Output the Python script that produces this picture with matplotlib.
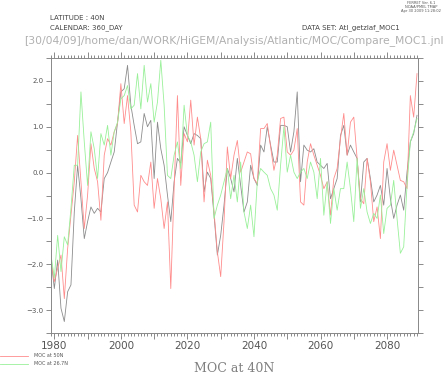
import matplotlib
matplotlib.use("Agg")
import matplotlib.pyplot as plt
from matplotlib.ticker import MultipleLocator, FuncFormatter

years = list(range(1979, 2090))

moc_40n = [
    -1.87, -2.53, -1.91, -2.96, -3.25, -2.6, -2.45, -0.86, 0.16, -0.57, -1.44,
    -1.07, -0.75, -0.89, -0.78, -0.86, -0.13, 0.0, 0.23, 0.45, 1.1, 1.76,
    1.83, 2.34, 1.47, 1.03, 0.63, 0.67, 1.29, 1.0, 1.14, -0.13, 1.1,
    0.52, 0.16, -0.49, -1.07, -0.2, 0.31, 0.2, 1.0, 0.81, 0.63, 0.85,
    0.81, 0.74, -0.42, 0.01, -0.13, -0.93, -1.8, -1.37, -0.71, 0.09, -0.13,
    -0.42, 0.31, -0.28, -0.86, -0.64, 0.16, -0.13, -0.28, 0.6, 0.45, 1.0,
    0.6, 0.23, 0.23, 1.03, 1.03, 1.0, 0.45, 0.89, 1.76, -0.2, 0.6,
    0.49, 0.45, 0.52, 0.23, 0.16, 0.09, 0.2, -0.57, -0.35, -0.13, 0.81,
    1.03, 0.38, 0.6, 0.45, 0.31, -0.64, 0.23, 0.31, -0.13, -0.64, -0.49,
    -0.28, -0.71, 0.09, -0.57, -1.0, -0.71, -0.49, -0.82, 0.01, 0.67, 0.85, 1.25,
]

moc_50n = [
    -1.95, -2.38, -2.09, -1.8, -2.75, -1.66, -0.93, -0.2, 0.81, -0.2, -1.22,
    -0.49, 0.63, 0.09, -0.2, -1.04, 0.38, 0.74, 0.6, 0.89, 1.07, 1.94,
    1.07, 1.68, 0.89, -0.71, -0.86, -0.06, -0.2, -0.28, 0.23, -0.78, -0.13,
    -0.57, -1.22, -0.64, -2.53, -0.35, 1.68, -0.28, 0.85, 0.67, 1.58, 0.6,
    1.21, 0.74, -0.64, 0.27, -0.06, -0.86, -1.73, -2.27, -1.07, 0.56, -0.13,
    0.38, 0.7, 0.01, 0.23, 0.45, 0.41, -0.13, -0.24, 0.96, 0.96, 1.07,
    0.56, 0.05, 0.38, 1.18, 1.21, 0.45, 0.38, 0.49, 0.96, -0.64, -0.71,
    0.23, 0.63, 0.38, 0.16, -0.06, -0.35, -0.2, -0.93, -0.13, 0.09, 0.74,
    1.29, 0.38, 1.1, 1.21, 0.31, -0.57, -0.68, 0.31, -0.2, -1.07, -0.75,
    -1.44, 0.23, 0.63, 0.05, 0.49, 0.16, -0.17, -0.2, -0.35, 1.68, 1.21, 2.16,
]

moc_26n = [
    -1.8, -2.3, -1.37, -2.16, -1.4, -1.58, -0.78, 0.16, 0.16, 1.76, 0.67,
    -0.28, 0.89, 0.52, -0.13, 0.85, 0.6, 1.03, 0.38, 0.89, 1.1, 1.61,
    1.68, 1.9, 1.39, 1.47, 2.16, 1.39, 2.34, 1.54, 1.94, 1.1, 1.54,
    2.45, 1.47, -0.06, -0.13, 0.38, 0.67, 0.09, 1.47, 0.81, 0.67, 0.38,
    -0.2, 0.45, 0.63, 0.67, 1.1, -1.0, -0.71, -0.49, -0.2, 0.09, -0.57,
    -0.06, -0.64, 0.23, -0.86, -1.22, -0.71, -1.4, -0.2, 0.09, 0.01, -0.06,
    -0.35, -0.49, -0.82, 0.16, 1.0, 0.01, 0.38, 0.01, -0.13, 0.01, 0.09,
    -0.13, 0.23, 0.01, -0.57, 0.31, -0.93, -0.2, -1.11, -0.35, -0.82, -0.35,
    -0.35, 0.23, -0.35, -1.07, 0.31, -0.78, -0.35, -0.86, -1.11, -0.89, -1.0,
    -0.49, -1.33, -0.78, -0.71, -0.17, -1.0, -1.76, -1.62, -0.28, 0.67, 0.89, 1.18,
]

W, H = 447, 374


def fx(px):
    return px / W


def fy(py):
    return 1 - py / H


fig = plt.figure(figsize=(W / 100, H / 100), dpi=100)
ax = fig.add_axes([fx(51), fy(333), (418 - 51) / W, (333 - 58) / H])

ax.plot(years, moc_40n, color="#8c8c8c", lw=0.6)
ax.plot(years, moc_50n, color="#ff8c8c", lw=0.6)
ax.plot(years, moc_26n, color="#99f099", lw=0.6)

ax.set_xlim(1979, 2089.3)
ax.set_ylim(-3.5, 2.5)

ax.xaxis.set_major_locator(MultipleLocator(10))
ax.xaxis.set_minor_locator(MultipleLocator(1))
ax.xaxis.set_major_formatter(FuncFormatter(lambda v, p: f"{int(v)}" if int(v) % 20 == 0 else ""))
ax.yaxis.set_major_locator(MultipleLocator(1))
ax.yaxis.set_minor_locator(MultipleLocator(0.5))
ax.yaxis.set_major_formatter(FuncFormatter(lambda v, p: f"{v:.1f}".replace("-", "\u2212")))

ax.tick_params(axis="both", which="both", direction="out", colors="#777777",
               top=True, right=True, width=0.6)
ax.tick_params(axis="x", which="major", length=4, labelsize=7.5, labelcolor="#555555", pad=2)
ax.tick_params(axis="x", which="minor", length=2)
ax.tick_params(axis="y", which="major", length=3.5, labelsize=5, labelcolor="#555555", pad=2)
ax.tick_params(axis="y", which="minor", length=3.5)
for s in ax.spines.values():
    s.set_color("#888888")
    s.set_linewidth(0.7)

# header
fig.text(fx(50), fy(17.5), "LATITUDE : 40N", fontsize=5, color="#444444", va="center")
fig.text(fx(50), fy(27.5), "CALENDAR: 360_DAY", fontsize=5, color="#444444", va="center")
fig.text(fx(302), fy(27.5), "DATA SET: Atl_getzlaf_MOC1", fontsize=5, color="#444444", va="center")
fig.text(fx(24), fy(40.5), "[30/04/09]/home/dan/WORK/HiGEM/Analysis/Atlantic/MOC/Compare_MOC1.jnl",
         fontsize=7.75, color="#b0b0b0", va="center", family="DejaVu Sans")
fig.text(fx(421), fy(7), "FERRET Ver. 6.1\nNOAA/PMEL TMAP\nApr 30 2009 11:28:02",
         fontsize=2.6, color="#555555", ha="center", va="center", linespacing=1.1)

# legend
fig.add_artist(plt.Line2D([0, fx(28)], [fy(355.7)] * 2, color="#ff8c8c", lw=0.6))
fig.add_artist(plt.Line2D([0, fx(28)], [fy(363.7)] * 2, color="#99f099", lw=0.6))
fig.text(fx(34), fy(355.7), "MOC at 50N", fontsize=3.5, color="#555555", va="center")
fig.text(fx(34), fy(363.7), "MOC at 26.7N", fontsize=3.5, color="#555555", va="center")

fig.text(fx(234.5), fy(368), "MOC at 40N", fontsize=9, color="#808080", ha="center",
         va="center", family="DejaVu Serif")

fig.savefig("out.png", dpi=100)
